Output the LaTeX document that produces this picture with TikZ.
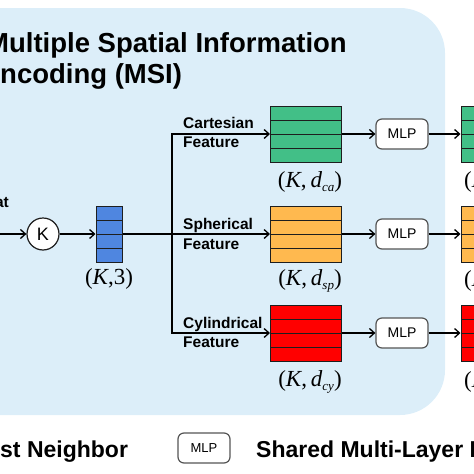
\documentclass[tikz,border=0pt]{standalone}
\usepackage{fontspec}
\setsansfont{Liberation Sans}
\newfontfamily\tms{Liberation Serif}
\usetikzlibrary{arrows.meta,calc}
\definecolor{bgblue}{RGB}{220,238,249}
\definecolor{stgreen}{RGB}{66,191,135}
\definecolor{storange}{RGB}{255,185,79}
\definecolor{stred}{RGB}{255,0,0}
\definecolor{stblue}{RGB}{79,134,224}
\definecolor{edge}{RGB}{30,30,30}
\definecolor{mlpedge}{RGB}{85,85,85}
\tikzset{
  arr/.style={line width=1.3pt,-{Straight Barb[length=5pt,width=9pt,line width=1.3pt]}},
  ln/.style={line width=1.3pt},
  stackbox/.style={draw=edge, line width=1pt, minimum width=71pt, minimum height=56pt, inner sep=0pt,
    path picture={\foreach \i in {1,2,3}{\draw[edge,line width=1pt]
      ($(path picture bounding box.north west)!\i/4!(path picture bounding box.south west)$) --
      ($(path picture bounding box.north east)!\i/4!(path picture bounding box.south east)$);}}},
  mlpbox/.style={draw=mlpedge, line width=1.2pt, rounded corners=6pt, fill=white, minimum width=52pt,
    minimum height=30pt, inner sep=0pt, font=\sffamily\fontsize{14}{14}\selectfont},
  featlbl/.style={anchor=base west, inner sep=0pt, font=\sffamily\bfseries\fontsize{15.5}{15.5}\selectfont},
  dimlbl/.style={inner sep=0pt, font=\tms\fontsize{23}{23}\selectfont},
  titlelbl/.style={anchor=base west, inner sep=0pt, font=\sffamily\bfseries\fontsize{27.5}{27.5}\selectfont},
  legendlbl/.style={anchor=base west, inner sep=0pt, font=\sffamily\bfseries\fontsize{23}{23}\selectfont}
}
\newcommand{\dsub}[1]{\textit{d}\raisebox{-0.4ex}{\fontsize{13}{13}\selectfont\textit{#1}}}
\begin{document}
\begin{tikzpicture}[x=1pt,y=-1pt]
\useasboundingbox (0,0) rectangle (474,474);
\clip (0,0) rectangle (474,474);
\fill[bgblue, rounded corners=45pt] (-60,8) rectangle (445,415);

% title
\node[titlelbl] (t1) at (-14,52) {Multiple Spatial Information};
\node[titlelbl] (t2) at (0,83) {ncoding (MSI)};

% input
\node[anchor=base east, inner sep=0pt, font=\sffamily\bfseries\fontsize{15.5}{15.5}\selectfont] (inlbl) at (9,207) {at};
\coordinate (in) at (-5,234);
\node[circle, draw=edge, line width=1.2pt, fill=white, minimum size=32pt, inner sep=0pt,
  font=\sffamily\fontsize{18}{18}\selectfont] (knn) at (43,234) {K};
\draw[arr] (in) -- (knn);

% blue stack
\node[stackbox, fill=stblue, minimum width=26pt] (pts) at (109,234) {};
\node[dimlbl] (ptslbl) at (109,279) {(\textit{K},3)};
\draw[arr] (knn) -- (pts);

% feature stacks
\node[stackbox, fill=stgreen] (ca) at (306,134) {};
\node[stackbox, fill=storange] (sp) at (306,234) {};
\node[stackbox, fill=stred] (cy) at (306,333) {};
\node[dimlbl] (calbl) at (310,182) {(\textit{K},\,\dsub{ca})};
\node[dimlbl] (splbl) at (310,281) {(\textit{K},\,\dsub{sp})};
\node[dimlbl] (cylbl) at (310,382) {(\textit{K},\,\dsub{cy})};

% branches
\coordinate (split) at (172,234);
\draw[ln] (pts.east) -- (split);
\draw[arr] (split) |- (ca.west);
\draw[arr] (split) -- (sp.west);
\draw[arr] (split) |- (cy.west);

\node[featlbl] (cal1) at (183,128) {Cartesian};
\node[featlbl] (cal2) at (183,147) {Feature};
\node[featlbl] (spl1) at (183,229) {Spherical};
\node[featlbl] (spl2) at (183,249) {Feature};
\node[featlbl] (cyl1) at (183,328) {Cylindrical};
\node[featlbl] (cyl2) at (183,347) {Feature};

% MLPs
\node[mlpbox] (m1) at (402,134) {MLP};
\node[mlpbox] (m2) at (402,234) {MLP};
\node[mlpbox] (m3) at (402,333) {MLP};
\draw[arr] (ca) -- (m1);
\draw[arr] (sp) -- (m2);
\draw[arr] (cy) -- (m3);

% output stacks (cut off at the right edge)
\node[stackbox, fill=stgreen] (oca) at (496.5,134) {};
\node[stackbox, fill=storange] (osp) at (496.5,234) {};
\node[stackbox, fill=stred] (ocy) at (496.5,333) {};
\draw[arr] (m1) -- (oca);
\draw[arr] (m2) -- (osp);
\draw[arr] (m3) -- (ocy);
\node[dimlbl, anchor=west] (ocalbl) at (464,182) {(\textit{K},};
\node[dimlbl, anchor=west] (osplbl) at (464,281) {(\textit{K},};
\node[dimlbl, anchor=west] (ocylbl) at (464,382) {(\textit{K},};

% legend
\node[legendlbl] (lg1) at (0,457) {st Neighbor};
\node[mlpbox, font=\sffamily\fontsize{13}{13}\selectfont] (lgm) at (204,448) {MLP};
\node[legendlbl] (lg2) at (256,457) {Shared Multi-Layer P};
\end{tikzpicture}
\end{document}
